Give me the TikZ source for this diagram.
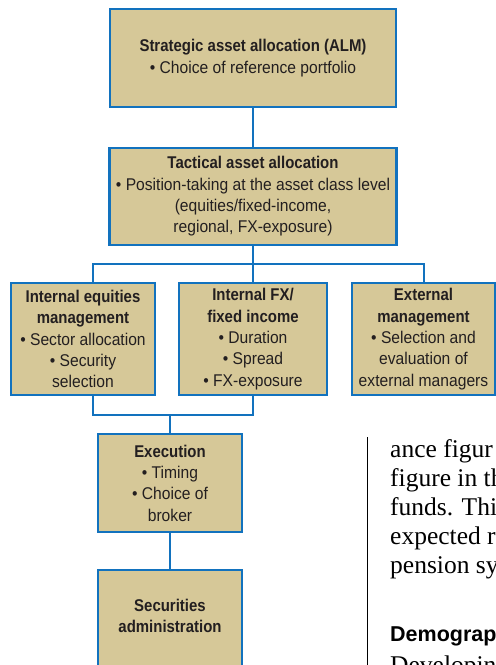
\documentclass[tikz,border=0pt]{standalone}
\usepackage{fontspec}
\setmainfont{Liberation Sans}
\newfontfamily\condf[FakeStretch=0.92]{Liberation Sans}
\newfontfamily\condb[FakeStretch=0.88]{Liberation Sans Bold}
\newcommand\hd[1]{{\condb #1}}
\newfontfamily\bodyserif{Liberation Serif}
\definecolor{boxfill}{HTML}{D6C898}
\definecolor{boxline}{HTML}{1272BE}
\definecolor{txt}{HTML}{231F20}
\tikzset{
  box/.style={draw=boxline, line width=2.5pt, fill=boxfill, inner sep=0pt,
    align=center, text=txt, font=\condf\fontsize{17}{21.3}\selectfont},
  conn/.style={draw=boxline, line width=2pt},
  bodyline/.style={anchor=base west, inner sep=0pt, text=black, font=\bodyserif\fontsize{25.5}{29}\selectfont},
}
\begin{document}
\begin{tikzpicture}[x=1pt,y=-1pt]
\useasboundingbox (0,0) rectangle (496,665);
\clip (0,0) rectangle (496,665);
% boxes
\node[box, minimum width=286pt, minimum height=98pt] (saa) at (253,58)
  {\hd{Strategic asset allocation (ALM)}\\\textbullet\ Choice of reference portfolio};
\node[box, minimum width=287pt, minimum height=97pt] (taa) at (253,196.5)
  {\hd{Tactical asset allocation}\\\textbullet\ Position-taking at the asset class level\\(equities/fixed-income,\\regional, FX-exposure)};
\node[box, minimum width=144pt, minimum height=112pt] (ieq) at (83,339)
  {\hd{Internal equities}\\\hd{management}\\\textbullet\ Sector allocation\\\textbullet\ Security\\selection};
\node[box, minimum width=148pt, minimum height=112pt] (ifx) at (253,339)
  {\hd{Internal FX/}\\\hd{fixed income}\\\textbullet\ Duration\\\textbullet\ Spread\\\textbullet\ FX-exposure};
\node[box, minimum width=143pt, minimum height=112pt] (ext) at (423.5,339)
  {\hd{External}\\\hd{management}\\\textbullet\ Selection and\\evaluation of\\external managers};
\node[box, minimum width=144pt, minimum height=98pt] (exe) at (170,483)
  {\hd{Execution}\\\textbullet\ Timing\\\textbullet\ Choice of\\broker};
\node[box, minimum width=144pt, minimum height=130pt] (sec) at (170,635) {};
\node[box, draw=none, fill=none] (sectext) at (170,616)
  {\hd{Securities}\\\hd{administration}};
% connectors
\coordinate (bL) at (93,264);
\coordinate (bR) at (423.5,264);
\coordinate (lL) at (93,415);
\coordinate (lR) at (253,415);
\draw[conn] (saa.south) -- (taa.north);
\draw[conn] (taa.south) -- (taa.south |- bL);
\draw[conn] (bL |- ieq.north) -- (bL) -- (bR) -- (ext.north);
\draw[conn] (ifx.north) -- (ifx.north |- bL);
\draw[conn] (bL |- ieq.south) -- (lL) -- (lR) -- (ifx.south);
\draw[conn] (exe.north) -- (exe.north |- lL);
\draw[conn] (exe.south) -- (sec.north);
% page text column
\coordinate (rt) at (367,437);
\coordinate (rb) at (367,665);
\draw[line width=0.9pt] (rt) -- (rb);
\node[bodyline] (t1) at (390,457) {ance figur};
\node[bodyline] (t2) at (390,486) {figure in th};
\node[bodyline] (t3) at (390,515) {funds. Thi};
\node[bodyline] (t4) at (390,544) {expected r};
\node[bodyline] (t5) at (390,573) {pension sy};
\node[bodyline, font=\bfseries\fontsize{21.5}{25}\selectfont] (t6) at (390,641) {Demograp};
\node[bodyline] (t7) at (390,673) {Developin};
\end{tikzpicture}
\end{document}
